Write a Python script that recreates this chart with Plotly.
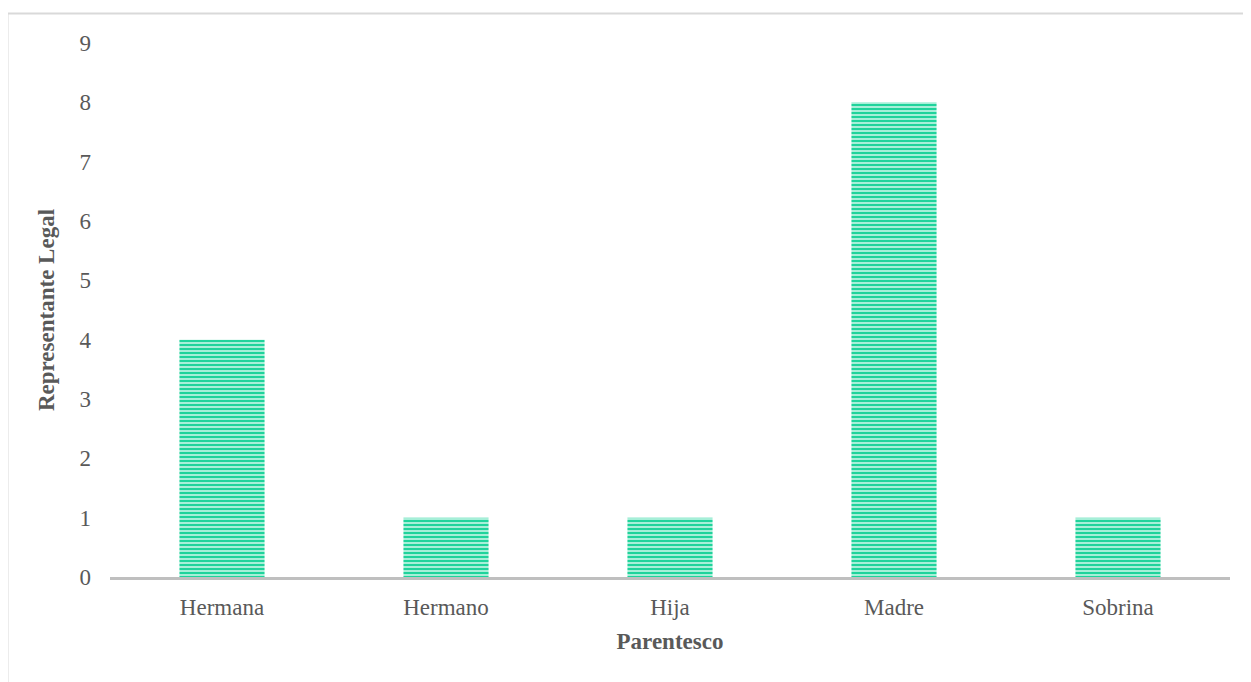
import plotly.graph_objects as go

# Categories and counts
parentesco = ["Hermana", "Hermano", "Hija", "Madre", "Sobrina"]
representantes = [4, 1, 1, 8, 1]
y_ticks = list(range(0, 10))

fig = go.Figure()

# Bars with horizontal stripe pattern
fig.add_trace(go.Bar(
    x=parentesco,
    y=representantes,
    marker=dict(
        color="#b5f3df",
        line=dict(width=0),
        pattern=dict(shape="-", fgcolor="#1fd39b", bgcolor="#b5f3df",
                     size=4, solidity=0.55, fillmode="replace"),
    ),
    showlegend=False,
))

font_gray = "#595959"
serif = "Liberation Serif, Times New Roman, serif"

# page body has an 8px margin, so the figure is shifted by that amount
fig.update_layout(
    width=1243,
    height=674,
    margin=dict(l=102, r=21, t=35, b=105),
    plot_bgcolor="white",
    paper_bgcolor="white",
    bargap=0.62,
    font=dict(family=serif, size=23, color=font_gray),
)

fig.update_xaxes(
    showline=True, linecolor="#bfbfbf", linewidth=3,
    showgrid=False, ticks="", ticklabelstandoff=7,
    title=dict(text="<b>Parentesco</b>", standoff=15,
               font=dict(family=serif, size=23, color=font_gray)),
)
fig.update_yaxes(
    range=[0, 9], tickvals=y_ticks, showgrid=False, zeroline=False,
    showline=False, ticks="", ticklabelstandoff=18,
    title=dict(text="<b>Representante Legal</b>", standoff=18,
               font=dict(family=serif, size=23, color=font_gray)),
)

# Light outer frame of the chart area
fig.add_shape(type="rect", xref="paper", yref="paper",
              x0=(7.5 - 110) / 1120, x1=1.2,
              y0=-0.4, y1=(577 - 13.5) / 534,
              line=dict(color="#d9d9d9", width=2), layer="below")

fig.write_html("out.html")
